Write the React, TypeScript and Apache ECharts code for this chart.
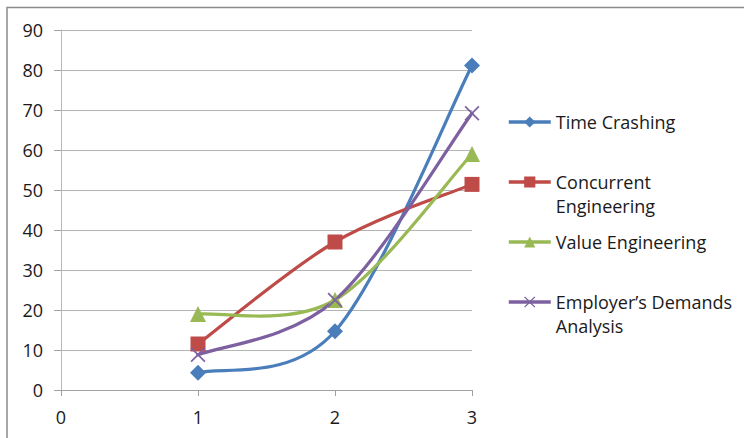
import React, { useEffect, useRef } from "react";
import * as echarts from "echarts";

const xValues = [1, 2, 3];
const seriesNames = ["Time Crashing", "Concurrent Engineering", "Value Engineering", "Employer\u2019s Demands Analysis"];
const legendLabels = ["Time Crashing", "Concurrent\nEngineering", "Value Engineering", "Employer\u2019s Demands\nAnalysis"];
const timeCrashing = [4.3, 14.7, 81.1];
const concurrentEngineering = [11.5, 37, 51.4];
const valueEngineering = [19, 22.5, 59];
const employersDemands = [8.8, 22.5, 69.2];
const seriesValues = [timeCrashing, concurrentEngineering, valueEngineering, employersDemands];
const colors = ["#4A7EBB", "#BE4B48", "#98B954", "#7D60A0"];
const symbols = [
  "diamond",
  "rect",
  "triangle",
  "path://M0,0.8L0.8,0L5,4.2L9.2,0L10,0.8L5.8,5L10,9.2L9.2,10L5,5.8L0.8,10L0,9.2L4.2,5Z",
];
const symbolSizes = [16, 15, 16, 15];

const FONT = "Open Sans";

export default function App() {
  const ref = useRef<HTMLDivElement>(null);
  useEffect(() => {
    if (!ref.current) return;
    const chart = echarts.init(ref.current, null, { renderer: "svg" });
    const iconCenters = [122, 182, 242, 302];
    const lh = 24;
    const legends = seriesNames.map((name, i) => {
      const twoLine = legendLabels[i].includes("\n");
      return {
        data: [name],
        orient: "vertical",
        left: 507,
        top: twoLine ? iconCenters[i] - 36 : iconCenters[i] - lh / 2,
        padding: 0,
        itemWidth: 42,
        itemHeight: 14,
        itemGap: 0,
        selectedMode: false,
        lineStyle: { width: 3.5, opacity: 1, color: colors[i] },
        formatter: () => (twoLine ? "\n" + legendLabels[i] : legendLabels[i]),
        textStyle: {
          fontFamily: FONT,
          fontSize: 18,
          color: "#1a1a1a",
          lineHeight: lh,
        },
      };
    });

    const pointSeries = seriesNames.map((name, i) => ({
      name,
      type: "line",
      z: 3,
      data: xValues.map((x, j) => [x, seriesValues[i][j]]),
      symbol: symbols[i],
      symbolSize: symbolSizes[i],
      showSymbol: true,
      color: colors[i],
      lineStyle: { color: colors[i], width: 3, opacity: 0 },
      itemStyle: { color: colors[i] },
    }));

    const curveSeries = seriesNames.map((name, i) => {
      const pts = xValues.map((x, j) => [x, seriesValues[i][j]]);
      const n = pts.length;
      return {
        name,
        type: "custom",
        z: 2,
        data: pts,
        encode: { x: 0, y: 1 },
        renderItem: (params: any, api: any) => {
          const k = params.dataIndex;
          if (k >= n - 1) return null;
          const P = (j: number) => api.coord(pts[Math.max(0, Math.min(n - 1, j))]);
          const p0 = P(k - 1);
          const p1 = P(k);
          const p2 = P(k + 1);
          const p3 = P(k + 2);
          return {
            type: "bezierCurve",
            shape: {
              x1: p1[0],
              y1: p1[1],
              x2: p2[0],
              y2: p2[1],
              cpx1: p1[0] + (p2[0] - p0[0]) / 6,
              cpy1: p1[1] + (p2[1] - p0[1]) / 6,
              cpx2: p2[0] - (p3[0] - p1[0]) / 6,
              cpy2: p2[1] - (p3[1] - p1[1]) / 6,
            },
            style: { stroke: colors[i], lineWidth: 3.2, fill: "none", lineCap: "round" },
          };
        },
      };
    });

    chart.setOption({
      animation: false,
      backgroundColor: "#fff",
      textStyle: { fontFamily: FONT },
      graphic: [
        {
          type: "rect",
          shape: { x: 7, y: 7.5, width: 800, height: 500 },
          style: { fill: "none", stroke: "#8a8a8a", lineWidth: 1.5 },
          silent: true,
        },
      ],
      legend: legends,
      grid: { left: 61, right: 272, top: 30, bottom: 48, containLabel: false },
      xAxis: {
        type: "value",
        min: 0,
        max: 3,
        interval: 1,
        axisLine: { show: true, onZero: false, lineStyle: { color: "#a0a0a0", width: 1 } },
        axisTick: { show: true, length: 6, lineStyle: { color: "#a0a0a0" } },
        splitLine: { show: false },
        axisLabel: { fontFamily: FONT, fontSize: 18, color: "#1a1a1a", margin: 18 },
      },
      yAxis: {
        type: "value",
        min: 0,
        max: 90,
        interval: 10,
        axisLine: { show: true, lineStyle: { color: "#b8b8b8", width: 1 } },
        axisTick: { show: true, length: 7, lineStyle: { color: "#a0a0a0" } },
        splitLine: { show: true, lineStyle: { color: "#b4b4b4", width: 1 } },
        axisLabel: { fontFamily: FONT, fontSize: 18, color: "#1a1a1a", margin: 18 },
      },
      series: [...pointSeries, ...curveSeries],
    });
    return () => chart.dispose();
  }, []);
  return (
    <div
      ref={ref}
      style={{ position: "absolute", left: 0, top: 0, width: 744, height: 438 }}
    />
  );
}
